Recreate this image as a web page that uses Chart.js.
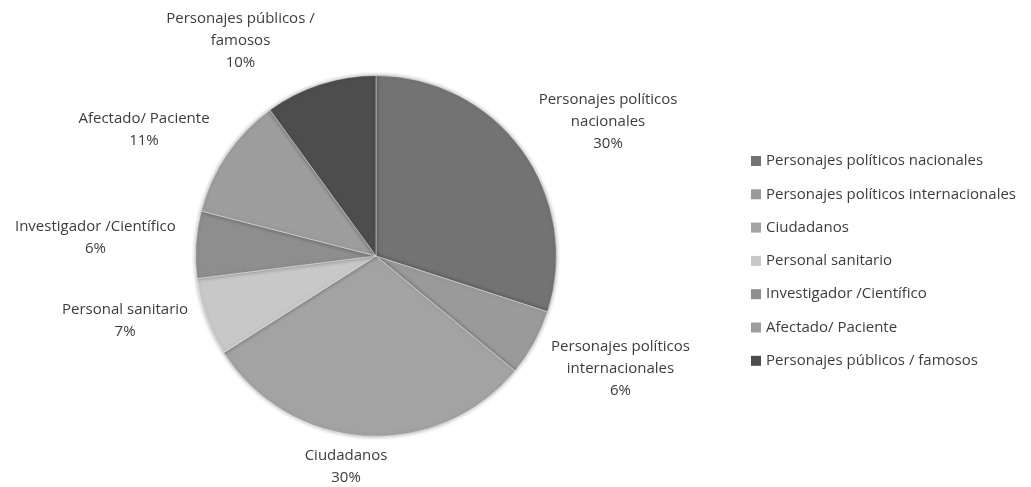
<!DOCTYPE html>
<html lang="es">
<head>
<meta charset="utf-8">
<title>Tipos de fuentes</title>
<script src="https://cdn.jsdelivr.net/npm/chart.js@4.4.0/dist/chart.umd.min.js"></script>
<style>
  html, body { margin: 0; padding: 0; background: #fff; }
  #wrap { width: 1031px; height: 487px; }
</style>
</head>
<body>
<div id="wrap"><canvas id="fuentes" width="1031" height="487"></canvas></div>
<script>
const categories = [
    'Personajes políticos nacionales',
    'Personajes políticos internacionales',
    'Ciudadanos',
    'Personal sanitario',
    'Investigador /Científico',
    'Afectado/ Paciente',
    'Personajes públicos / famosos'
];
const shares = [30, 6, 30, 7, 6, 11, 10];
const sliceColors = ['#737373', '#9a9a9a', '#a3a3a3', '#c8c8c8', '#8e8e8e', '#9d9d9d', '#4d4d4d'];

const textFont = '15px "Open Sans", Lato, sans-serif';
const textColor = '#3c3c3c';

// split a label into lines no wider than maxWidth
function wrapText(ctx, text, maxWidth) {
    const words = text.split(' ');
    const lines = [];
    let line = '';
    words.forEach(w => {
        const test = line ? line + ' ' + w : w;
        if (line && ctx.measureText(test).width > maxWidth) {
            lines.push(line);
            line = w;
        } else {
            line = test;
        }
    });
    if (line) lines.push(line);
    return lines;
}

// soft edge around the pie
const pieShadow = {
    id: 'pieShadow',
    beforeDatasetsDraw(chart) {
        const ctx = chart.ctx;
        ctx.save();
        ctx.shadowColor = 'rgba(0, 0, 0, 0.35)';
        ctx.shadowBlur = 4;
    },
    afterDatasetsDraw(chart) {
        chart.ctx.restore();
    }
};

// name + percentage outside each slice
const sliceLabels = {
    id: 'sliceLabels',
    afterDraw(chart, args, opts) {
        const ctx = chart.ctx;
        const meta = chart.getDatasetMeta(0);
        const values = chart.data.datasets[0].data;
        const total = values.reduce((a, b) => a + b, 0);
        ctx.save();
        ctx.font = textFont;
        ctx.fillStyle = textColor;
        ctx.textAlign = 'center';
        ctx.textBaseline = 'middle';
        meta.data.forEach((arc, i) => {
            const p = arc.getProps(['x', 'y', 'startAngle', 'endAngle', 'outerRadius'], true);
            const mid = (p.startAngle + p.endAngle) / 2 + opts.angleShift[i] * Math.PI / 180;
            const d = p.outerRadius * opts.distance[i];
            const cx = p.x + Math.cos(mid) * d;
            const cy = p.y + Math.sin(mid) * d;
            const lines = wrapText(ctx, chart.data.labels[i], opts.wrapWidth);
            lines.push(Math.round(values[i] / total * 100) + '%');
            const top = cy - (lines.length - 1) * opts.lineHeight / 2;
            lines.forEach((l, k) => ctx.fillText(l, cx, top + k * opts.lineHeight));
        });
        ctx.restore();
    }
};

// legend column on the right
const sideLegend = {
    id: 'sideLegend',
    afterDraw(chart, args, opts) {
        const ctx = chart.ctx;
        const colors = chart.data.datasets[0].backgroundColor;
        ctx.save();
        ctx.font = textFont;
        ctx.textBaseline = 'middle';
        chart.data.labels.forEach((label, i) => {
            const y = opts.top + i * opts.step;
            ctx.fillStyle = colors[i];
            ctx.fillRect(opts.left, y - opts.box / 2, opts.box, opts.box);
            ctx.fillStyle = textColor;
            ctx.fillText(label, opts.left + opts.box + 5, y);
        });
        ctx.restore();
    }
};

new Chart(document.getElementById('fuentes'), {
    type: 'pie',
    data: {
        labels: categories,
        datasets: [{
            data: shares,
            backgroundColor: sliceColors,
            borderColor: 'rgba(255, 255, 255, 0.45)',
            borderWidth: 1
        }]
    },
    options: {
        responsive: false,
        animation: false,
        layout: {
            padding: { left: 195, right: 474, top: 75, bottom: 50 }
        },
        plugins: {
            legend: { display: false },
            tooltip: { enabled: false },
            sliceLabels: {
                angleShift: [5.9, -4, 4.5, 5.3, 0.1, -5.6, -14.2],
                distance: [1.486, 1.492, 1.177, 1.436, 1.558, 1.464, 1.409],
                lineHeight: 22,
                wrapWidth: 190
            },
            sideLegend: { left: 751, top: 161, step: 33.3, box: 10 }
        }
    },
    plugins: [pieShadow, sliceLabels, sideLegend]
});
</script>
</body>
</html>
